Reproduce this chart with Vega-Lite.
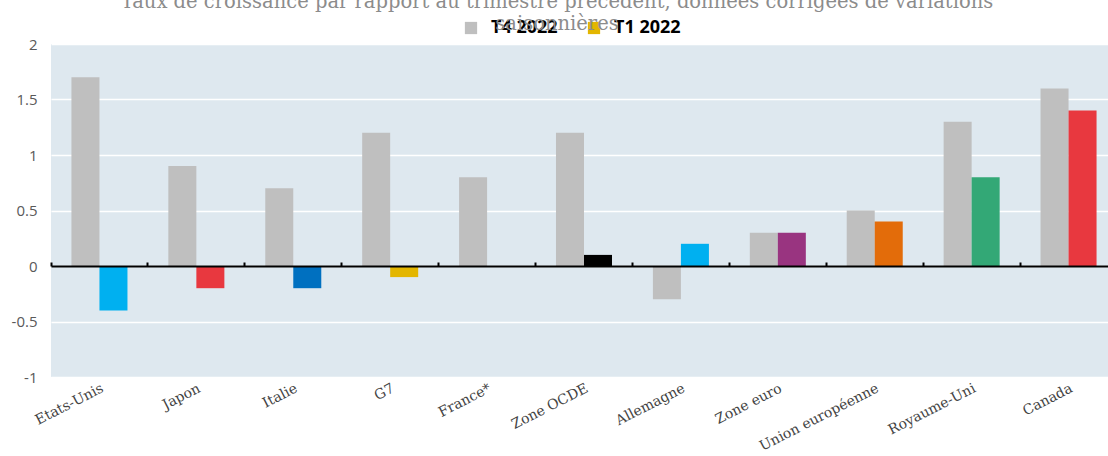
{
  "$schema": "https://vega.github.io/schema/vega-lite/v6.json",
  "autosize": "none",
  "width": 1066,
  "height": 333,
  "padding": {"left": 51, "top": 44, "right": 0, "bottom": 79},
  "background": "white",
  "title": {
    "text": ["Taux de croissance par rapport au trimestre précédent, données corrigées de variations", "saisonnières"],
    "anchor": "middle",
    "dx": -27,
    "dy": 33,
    "offset": 18,
    "lineHeight": 22,
    "font": "DejaVu Serif",
    "fontSize": 19.5,
    "fontWeight": "normal",
    "color": "#8c8c8c"
  },
  "data": {
    "values": [
      {"pays": "Etats-Unis", "periode": "T4 2022", "valeur": 1.7, "cle": "T4 2022"},
      {"pays": "Etats-Unis", "periode": "T1 2022", "valeur": -0.4, "cle": "T1 Etats-Unis"},
      {"pays": "Japon", "periode": "T4 2022", "valeur": 0.9, "cle": "T4 2022"},
      {"pays": "Japon", "periode": "T1 2022", "valeur": -0.2, "cle": "T1 Japon"},
      {"pays": "Italie", "periode": "T4 2022", "valeur": 0.7, "cle": "T4 2022"},
      {"pays": "Italie", "periode": "T1 2022", "valeur": -0.2, "cle": "T1 Italie"},
      {"pays": "G7", "periode": "T4 2022", "valeur": 1.2, "cle": "T4 2022"},
      {"pays": "G7", "periode": "T1 2022", "valeur": -0.1, "cle": "T1 G7"},
      {"pays": "France*", "periode": "T4 2022", "valeur": 0.8, "cle": "T4 2022"},
      {"pays": "Zone OCDE", "periode": "T4 2022", "valeur": 1.2, "cle": "T4 2022"},
      {"pays": "Zone OCDE", "periode": "T1 2022", "valeur": 0.1, "cle": "T1 Zone OCDE"},
      {"pays": "Allemagne", "periode": "T4 2022", "valeur": -0.3, "cle": "T4 2022"},
      {"pays": "Allemagne", "periode": "T1 2022", "valeur": 0.2, "cle": "T1 Allemagne"},
      {"pays": "Zone euro", "periode": "T4 2022", "valeur": 0.3, "cle": "T4 2022"},
      {"pays": "Zone euro", "periode": "T1 2022", "valeur": 0.3, "cle": "T1 Zone euro"},
      {"pays": "Union européenne", "periode": "T4 2022", "valeur": 0.5, "cle": "T4 2022"},
      {"pays": "Union européenne", "periode": "T1 2022", "valeur": 0.4, "cle": "T1 Union européenne"},
      {"pays": "Royaume-Uni", "periode": "T4 2022", "valeur": 1.3, "cle": "T4 2022"},
      {"pays": "Royaume-Uni", "periode": "T1 2022", "valeur": 0.8, "cle": "T1 Royaume-Uni"},
      {"pays": "Canada", "periode": "T4 2022", "valeur": 1.6, "cle": "T4 2022"},
      {"pays": "Canada", "periode": "T1 2022", "valeur": 1.4, "cle": "T1 Canada"}
    ]
  },
  "mark": {"type": "bar"},
  "encoding": {
    "x": {
      "field": "pays",
      "type": "nominal",
      "sort": ["Etats-Unis", "Japon", "Italie", "G7", "France*", "Zone OCDE", "Allemagne", "Zone euro", "Union européenne", "Royaume-Uni", "Canada"],
      "scale": {"paddingInner": 0, "paddingOuter": 0},
      "axis": {
        "title": null,
        "orient": "bottom",
        "offset": -111,
        "zindex": 1,
        "domainColor": "#000000",
        "domainWidth": 2,
        "ticks": true,
        "bandPosition": 0,
        "tickColor": "#000000",
        "tickWidth": 2,
        "tickSize": -4,
        "labelAngle": -27,
        "labelAlign": "right",
        "labelBaseline": "top",
        "labelOffset": 0,
        "labelPadding": 119,
        "labelFont": "DejaVu Serif",
        "labelFontSize": 14,
        "labelColor": "#444444",
        "labelOverlap": false
      }
    },
    "xOffset": {
      "field": "periode",
      "type": "nominal",
      "sort": ["T4 2022", "T1 2022"],
      "scale": {"paddingInner": 0, "paddingOuter": 0.73}
    },
    "y": {
      "field": "valeur",
      "type": "quantitative",
      "scale": {"domain": [-1, 2], "nice": false, "zero": false},
      "axis": {
        "title": null,
        "values": [-1, -0.5, 0, 0.5, 1, 1.5, 2],
        "labelExpr": "'' + datum.value",
        "domain": false,
        "ticks": false,
        "grid": true,
        "gridColor": "#ffffff",
        "gridWidth": 1.5,
        "labelPadding": 14,
        "labelFont": "Open Sans",
        "labelFontSize": 15,
        "labelColor": "#595959"
      }
    },
    "color": {
      "field": "cle",
      "type": "nominal",
      "scale": {
        "domain": ["T4 2022", "T1 Etats-Unis", "T1 Japon", "T1 Italie", "T1 G7", "T1 Zone OCDE", "T1 Allemagne", "T1 Zone euro", "T1 Union européenne", "T1 Royaume-Uni", "T1 Canada"],
        "range": ["#bfbfbf", "#00b0f0", "#e8383f", "#0070c0", "#e3b600", "#000000", "#00b0f0", "#993480", "#e36c0a", "#33a876", "#e8383f"]
      },
      "legend": {
        "title": null,
        "orient": "none",
        "legendX": 411,
        "legendY": -25,
        "direction": "horizontal",
        "values": ["T4 2022", "T1 G7"],
        "labelExpr": "datum.value == 'T4 2022' ? 'T4 2022' : 'T1 2022'",
        "symbolType": "square",
        "symbolSize": 150,
        "symbolStrokeWidth": 0,
        "labelFont": "Open Sans",
        "labelFontSize": 18,
        "labelFontWeight": "bold",
        "labelColor": "#000000",
        "labelOffset": 11,
        "columnPadding": 27,
        "padding": 0
      }
    }
  },
  "config": {
    "view": {"fill": "#dee8ef", "stroke": null}
  }
}
